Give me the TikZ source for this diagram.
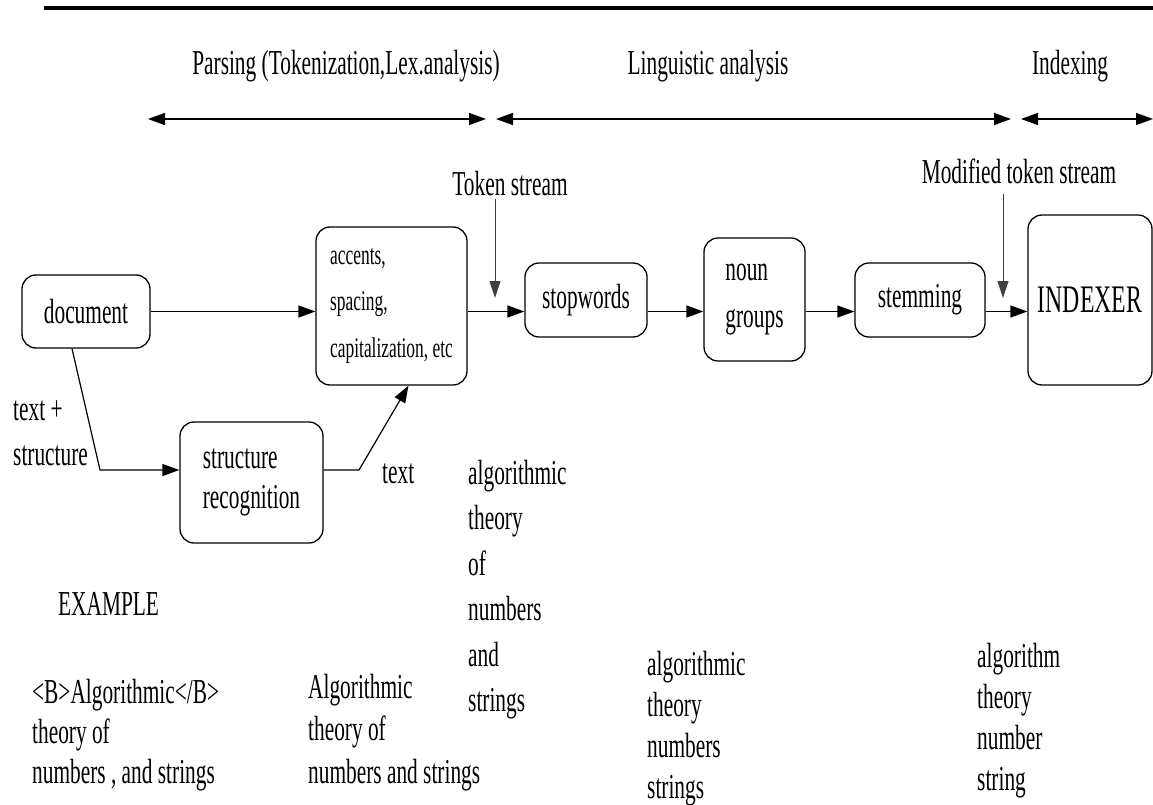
\documentclass[tikz,border=0pt]{standalone}
\usepackage{fontspec}
\setmainfont[FakeStretch=0.61]{Liberation Serif}
\usetikzlibrary{arrows.meta,calc}
\begin{document}
\begin{tikzpicture}[x=1pt,y=-1pt,
  box/.style={draw, line width=1.3pt, rounded corners=14pt, inner sep=0pt},
  txt/.style={inner sep=0pt, font=\fontsize{35}{45}\selectfont},
  arr/.style={line width=1.4pt, -{Triangle[length=17pt,width=12pt]}},
  darr/.style={line width=1.4pt, {Triangle[length=17pt,width=12pt]}-{Triangle[length=17pt,width=12pt]}},
  thinarr/.style={line width=0.9pt, draw=black!75, -{Triangle[length=17pt,width=11pt]}},
]
\useasboundingbox (0,0) rectangle (1153,805);

% top rule
\draw[line width=4.5pt] (44,8) -- (1153,8);

% phase labels
\node[txt, anchor=base] (parse) at (346,75) {Parsing (Tokenization,Lex.analysis)};
\node[txt, anchor=base] (ling) at (708,75) {Linguistic analysis};
\node[txt, anchor=base] (indx) at (1070,75) {Indexing};

% phase arrows
\coordinate (a1) at (148,119); \coordinate (a2) at (486,119);
\coordinate (a3) at (496,119); \coordinate (a4) at (1011,119);
\coordinate (a5) at (1021,119); \coordinate (a6) at (1153,119);
\draw[darr] (a1) -- (a2);
\draw[darr] (a3) -- (a4);
\draw[darr] (a5) -- (a6);

% boxes
\node[box, minimum width=128pt, minimum height=73pt, txt] (doc) at (86,311.5) {document};
\node[box, minimum width=151pt, minimum height=158pt, align=left,
      font=\fontsize{28.5}{46.5}\selectfont] (acc) at (391.5,306) {accents,\\spacing,\\capitalization, etc};
\node[box, minimum width=122pt, minimum height=74pt, txt] (stop) at (586,300) {stopwords};
\node[box, minimum width=101pt, minimum height=123pt, txt, align=left,
      font=\fontsize{35}{47}\selectfont] (noun) at (754.5,299.5) {noun\\groups};
\node[box, minimum width=130pt, minimum height=74pt, txt] (stem) at (920,300) {stemming};
\node[box, minimum width=124pt, minimum height=170pt, txt,
      font=\fontsize{39}{45}\selectfont] (idx) at (1090,300) {INDEXER};
\node[box, minimum width=143pt, minimum height=121pt, txt, align=left,
      font=\fontsize{35}{40}\selectfont] (str) at (251.5,482.5) {structure\\recognition};

% stream labels
\node[txt, anchor=base] (tok) at (510,196) {Token stream};
\node[txt, anchor=base] (mtok) at (1019,183) {Modified token stream};
\coordinate (t1) at (495,298);
\coordinate (t2) at (1003,298);
\draw[thinarr] (tok.south -| t1) ++(0,2) -- (t1);
\draw[thinarr] (mtok.south -| t2) ++(0,10) -- (t2);

% main flow
\draw[arr] (doc.east) -- (doc.east -| acc.west);
\draw[arr] (acc.east |- doc.east) -- (stop.west |- doc.east);
\draw[arr] (stop.east |- doc.east) -- (noun.west |- doc.east);
\draw[arr] (noun.east |- doc.east) -- (stem.west |- doc.east);
\draw[arr] (stem.east |- doc.east) -- (idx.west |- doc.east);

% structure branch
\coordinate (b1) at (100,470);
\coordinate (b2) at (359,470);
\draw[arr, line width=1.2pt] ([xshift=-14pt]doc.south) -- (b1) -- (b1 -| str.west);
\draw[arr, line width=1.2pt] (str.east |- b2) -- (b2) -- ([xshift=17pt]acc.south);

\node[txt, anchor=north west, align=left] (ts) at (13,401) {text +\\structure};
\node[txt, anchor=base west] (txtlbl) at (382,483) {text};

% example
\node[txt, anchor=base west] (ex) at (58,615) {EXAMPLE};
\node[txt, anchor=north west, align=left, font=\fontsize{35}{45.5}\selectfont] (c1) at (468,460)
  {algorithmic\\theory\\of\\numbers\\and\\strings};
\node[txt, anchor=north west, align=left, font=\fontsize{35}{40}\selectfont] (e1) at (32,679)
  {<B>Algorithmic</B>\\theory of\\numbers , and strings};
\node[txt, anchor=north west, align=left, font=\fontsize{35}{42.5}\selectfont] (e2) at (308,674)
  {Algorithmic\\theory of\\numbers and strings};
\node[txt, anchor=north west, align=left, font=\fontsize{35}{41}\selectfont] (e3) at (647,651)
  {algorithmic\\theory\\numbers\\strings};
\node[txt, anchor=north west, align=left, font=\fontsize{35}{41}\selectfont] (e4) at (977,643)
  {algorithm\\theory\\number\\string};
\end{tikzpicture}
\end{document}
